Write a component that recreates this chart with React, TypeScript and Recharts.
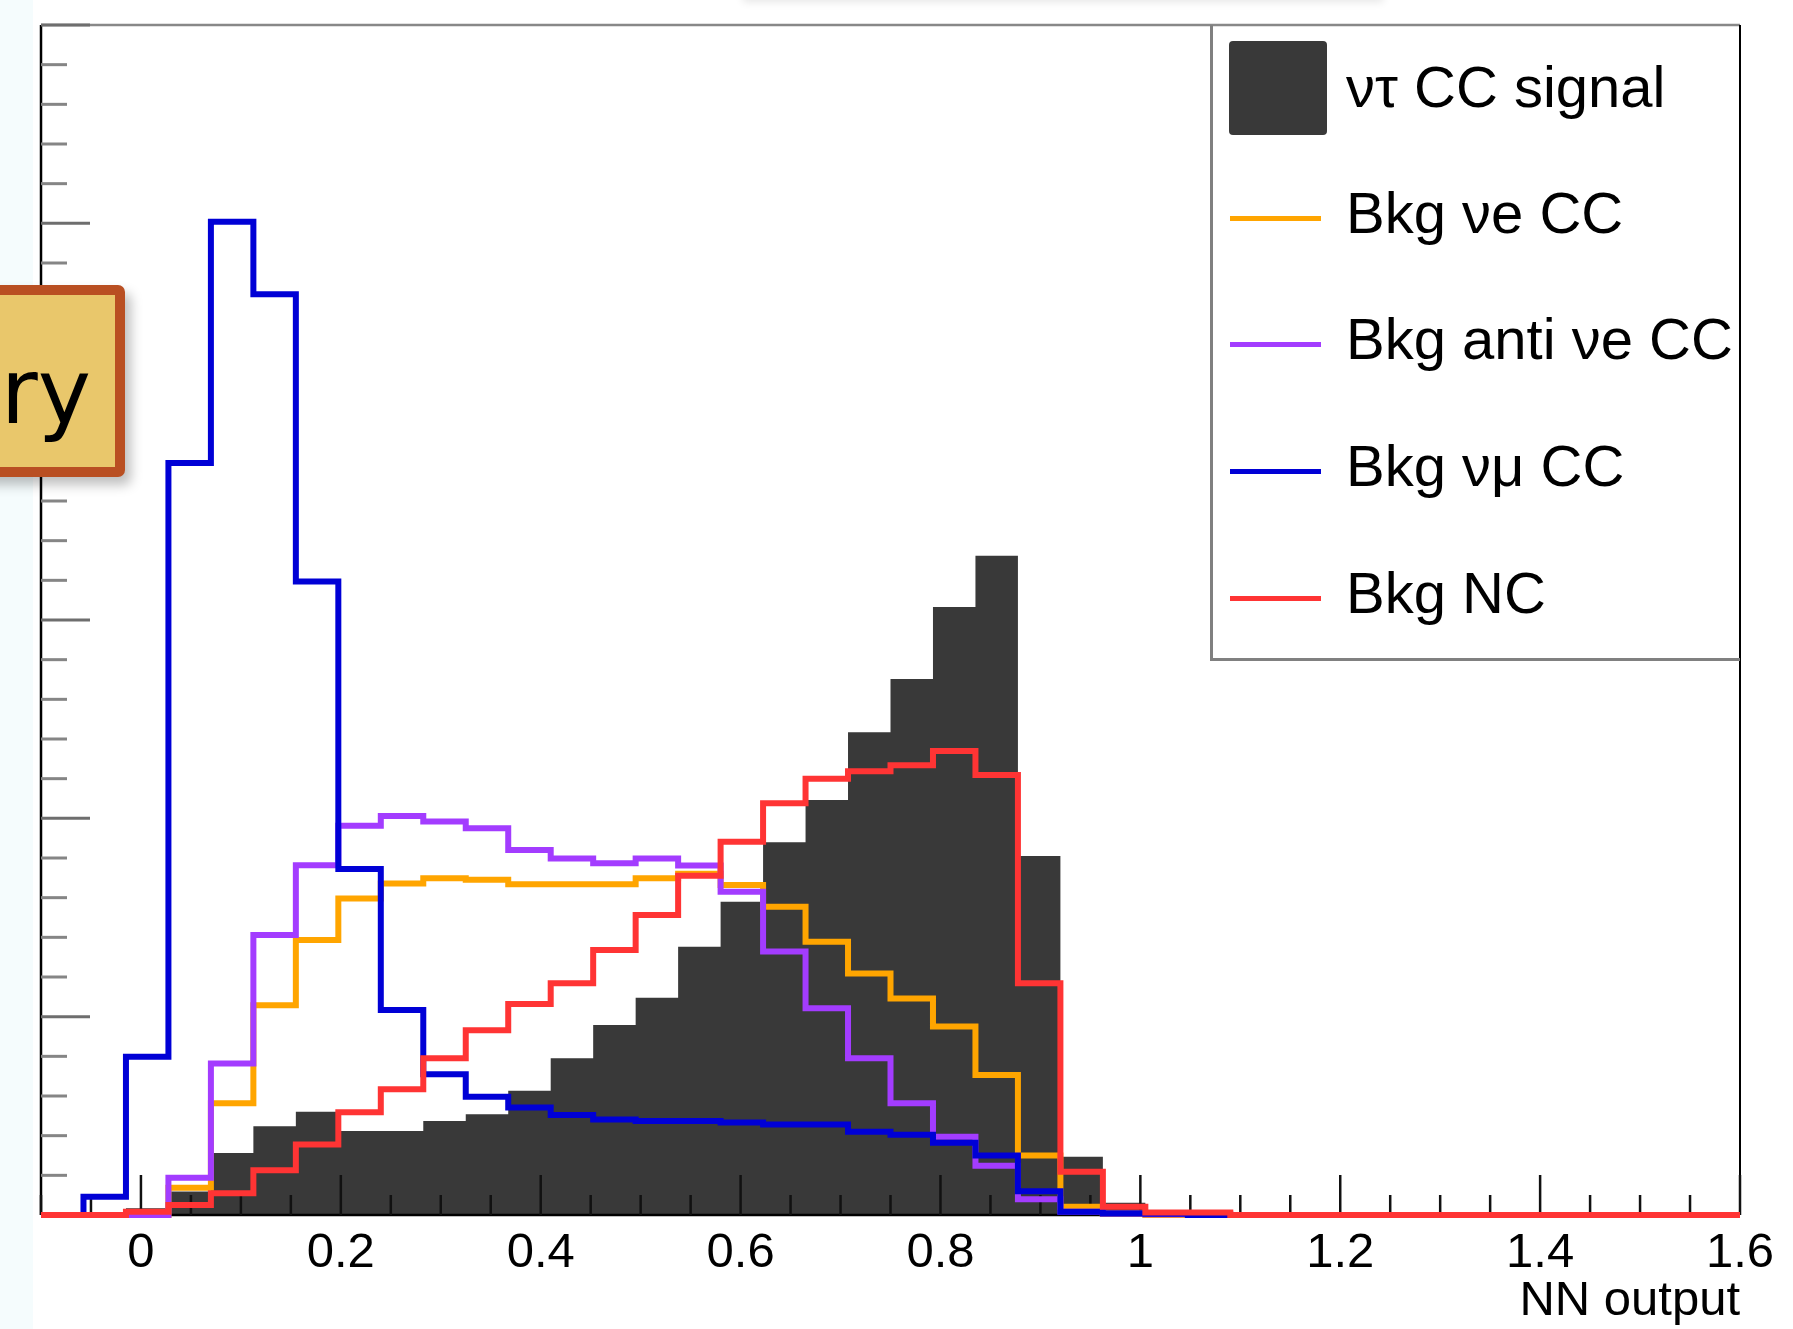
import {
  ComposedChart,
  Area,
  Line,
  XAxis,
  YAxis,
  ReferenceLine,
} from 'recharts';

// 40 bins from -0.1 to 1.6 (ROOT TH1 binning of the NN output)
const BIN_MIN = -0.1;
const BIN_MAX = 1.6;
const BIN_COUNT = 40;

const nutauSignal = [
  0, 0, 0.0017, 0.0059, 0.0156, 0.0224, 0.026, 0.0212, 0.0212, 0.0237,
  0.0254, 0.0313, 0.0395, 0.0479, 0.0548, 0.0676, 0.079, 0.094, 0.1046, 0.1217,
  0.1351, 0.1533, 0.1662, 0.0905, 0.0147, 0.0031, 0, 0, 0, 0,
  0, 0, 0, 0, 0, 0, 0, 0, 0, 0,
];
const nueCC = [
  0, 0, 0, 0.0069, 0.0282, 0.0529, 0.0693, 0.0798, 0.0836, 0.0849,
  0.0845, 0.0834, 0.0834, 0.0834, 0.0849, 0.086, 0.0832, 0.0777, 0.0689, 0.0609,
  0.0546, 0.0475, 0.0353, 0.015, 0.0021, 0.0003, 0, 0, 0, 0,
  0, 0, 0, 0, 0, 0, 0, 0, 0, 0,
];
const antiNueCC = [
  0, 0, 0, 0.0094, 0.0382, 0.0706, 0.0882, 0.0981, 0.1006, 0.0992,
  0.0975, 0.092, 0.0899, 0.0887, 0.0899, 0.0881, 0.0815, 0.0664, 0.0521, 0.0395,
  0.0282, 0.0197, 0.0124, 0.004, 0.0008, 0.0004, 0.0002, 0.0002, 0, 0,
  0, 0, 0, 0, 0, 0, 0, 0, 0, 0,
];
const numuCC = [
  0, 0.0046, 0.0399, 0.1896, 0.2504, 0.2321, 0.1597, 0.0872, 0.0517, 0.0355,
  0.0298, 0.0271, 0.0252, 0.0241, 0.0237, 0.0237, 0.0233, 0.0228, 0.0228, 0.021,
  0.0202, 0.0182, 0.015, 0.006, 0.0008, 0.0004, 0.0003, 0, 0, 0,
  0, 0, 0, 0, 0, 0, 0, 0, 0, 0,
];
const bkgNC = [
  0, 0, 0.0008, 0.0025, 0.0055, 0.0113, 0.0178, 0.0259, 0.0317, 0.0395,
  0.0466, 0.0532, 0.0584, 0.0668, 0.0756, 0.0855, 0.0941, 0.1038, 0.11, 0.1119,
  0.1134, 0.117, 0.1109, 0.0584, 0.0109, 0.0021, 0.0006, 0.0006, 0, 0,
  0, 0, 0, 0, 0, 0, 0, 0, 0, 0,
];

const xMajorStep = 0.2;
const xMinorStep = 0.05;
const yMax = 0.3;
const yMajorStep = 0.05;
const yMinorStep = 0.01;

const SERIES = [
  { key: 'signal', label: 'ντ CC signal', color: '#393939', values: nutauSignal, fill: true },
  { key: 'nue', label: 'Bkg νe CC', color: '#ffa500', values: nueCC },
  { key: 'antinue', label: 'Bkg anti νe CC', color: '#a33cff', values: antiNueCC },
  { key: 'numu', label: 'Bkg νμ CC', color: '#0000d6', values: numuCC },
  { key: 'nc', label: 'Bkg NC', color: '#ff3434', values: bkgNC },
];

const round = (v: number, d = 4) => Math.round(v * 10 ** d) / 10 ** d;

// one row per bin low edge, plus the upper edge so the last step closes
const binWidth = (BIN_MAX - BIN_MIN) / BIN_COUNT;
const rows = Array.from({ length: BIN_COUNT + 1 }, (_, i) => {
  const row: Record<string, number> = { x: round(BIN_MIN + i * binWidth) };
  SERIES.forEach((s) => {
    row[s.key] = s.values[Math.min(i, BIN_COUNT - 1)];
  });
  return row;
});

const xTicks = Array.from(
  { length: Math.round((BIN_MAX - BIN_MIN) / xMinorStep) + 1 },
  (_, i) => round(BIN_MIN + i * xMinorStep, 2),
);
const yTicks = Array.from(
  { length: Math.round(yMax / yMinorStep) + 1 },
  (_, i) => round(i * yMinorStep, 2),
);

const isMultiple = (v: number, step: number) =>
  Math.abs(v / step - Math.round(v / step)) < 1e-6;

const FONT = '"Liberation Sans", Arial, Helvetica, sans-serif';
const CHART_W = 1793;
const CHART_H = 1329;

function XTick({ x, y, payload }: any) {
  const major = isMultiple(payload.value, xMajorStep);
  return (
    <g>
      <line x1={x} x2={x} y1={y} y2={y - (major ? 40 : 20)} stroke="#111" strokeWidth={2.5} />
      {major && (
        <text x={x} y={y + 52} textAnchor="middle" fontSize={49} fontFamily={FONT} fill="#000">
          {String(round(payload.value, 2))}
        </text>
      )}
    </g>
  );
}

function YTick({ x, y, payload }: any) {
  const major = isMultiple(payload.value, yMajorStep);
  return (
    <line
      x1={x}
      x2={x + (major ? 49 : 26)}
      y1={y}
      y2={y}
      stroke={major ? '#6e6e6e' : '#858585'}
      strokeWidth={3}
    />
  );
}

function AxisTitle({ viewBox }: any) {
  return (
    <text
      x={viewBox.x + viewBox.width}
      y={viewBox.y + 100}
      textAnchor="end"
      fontSize={49}
      fontFamily={FONT}
      fill="#000"
    >
      NN output
    </text>
  );
}

function HistLegend() {
  const rowCenters = [62, 188, 314, 441, 568];
  return (
    <div
      style={{
        position: 'absolute',
        left: 1210,
        top: 25,
        width: 530,
        height: 636,
        boxSizing: 'border-box',
        borderLeft: '3px solid #808080',
        borderBottom: '3px solid #808080',
        fontFamily: FONT,
        fontSize: 58,
        color: '#000',
      }}
    >
      {SERIES.map((s, i) => (
        <div key={s.key}>
          {s.fill ? (
            <div
              style={{
                position: 'absolute',
                left: 16,
                top: 16,
                width: 98,
                height: 94,
                borderRadius: 4,
                background: s.color,
              }}
            />
          ) : (
            <div
              style={{
                position: 'absolute',
                left: 17,
                top: rowCenters[i] + 3,
                width: 91,
                height: 5,
                background: s.color,
              }}
            />
          )}
          <div
            style={{
              position: 'absolute',
              left: 133,
              top: rowCenters[i] - 33,
              lineHeight: '66px',
              whiteSpace: 'nowrap',
            }}
          >
            {s.label}
          </div>
        </div>
      ))}
    </div>
  );
}

export default function App() {
  return (
    <div
      style={{
        position: 'absolute',
        left: 0,
        top: 0,
        width: CHART_W,
        height: CHART_H,
        background: '#fff',
        overflow: 'hidden',
      }}
    >
      <div style={{ position: 'absolute', left: 0, top: 0, width: 33, height: CHART_H, background: '#f5fcfd' }} />
      <div
        style={{
          position: 'absolute',
          left: 743,
          top: -12,
          width: 640,
          height: 12,
          background: '#fff',
          boxShadow: '0 2px 8px rgba(0,0,0,0.1)',
        }}
      />
      {/* frame, axes and the filled signal histogram */}
      <div style={{ position: 'absolute', left: 0, top: 0 }}>
        <ComposedChart
          width={CHART_W}
          height={CHART_H}
          data={rows}
          margin={{ top: 25, right: 53, bottom: 0, left: 0 }}
        >
          <Area
            type="stepAfter"
            dataKey="signal"
            fill="#393939"
            fillOpacity={1}
            stroke="none"
            baseValue={0}
            dot={false}
            activeDot={false}
            isAnimationActive={false}
          />
          <XAxis
            type="number"
            dataKey="x"
            domain={[BIN_MIN, BIN_MAX]}
            allowDataOverflow
            ticks={xTicks}
            interval={0}
            tickSize={0}
            tickMargin={0}
            tickLine={false}
            tick={(p: any) => <XTick {...p} />}
            axisLine={{ stroke: '#000', strokeWidth: 2.5 }}
            height={114}
            label={(p: any) => <AxisTitle {...p} />}
          />
          <YAxis
            type="number"
            domain={[0, yMax]}
            allowDataOverflow
            ticks={yTicks}
            interval={0}
            tickSize={0}
            tickMargin={0}
            tickLine={false}
            tick={(p: any) => <YTick {...p} />}
            axisLine={{ stroke: '#000', strokeWidth: 2.5 }}
            width={41}
          />
          <ReferenceLine y={yMax} stroke="#888" strokeWidth={2.5} />
          <ReferenceLine x={BIN_MAX} stroke="#000" strokeWidth={2} />
        </ComposedChart>
      </div>
      {/* background step histograms, stacked above the axis lines (no clipping, so zero bins sit on the axis) */}
      <div style={{ position: 'absolute', left: 0, top: 0 }}>
        <ComposedChart
          width={CHART_W}
          height={CHART_H}
          data={rows}
          margin={{ top: 25, right: 53, bottom: 114, left: 41 }}
        >
          <XAxis type="number" dataKey="x" domain={[BIN_MIN, BIN_MAX]} hide />
          <YAxis type="number" domain={[0, yMax]} hide />
          {SERIES.filter((s) => !s.fill).map((s) => (
            <Line
              key={s.key}
              type="stepAfter"
              dataKey={s.key}
              stroke={s.color}
              strokeWidth={6}
              strokeLinejoin="miter"
              dot={false}
              activeDot={false}
              isAnimationActive={false}
            />
          ))}
        </ComposedChart>
      </div>
      <HistLegend />
      <div
        style={{
          position: 'absolute',
          left: -80,
          top: 285,
          width: 205,
          height: 192,
          boxSizing: 'border-box',
          background: '#e9c76b',
          border: '10px solid #b94f22',
          borderRadius: 7,
          boxShadow: '6px 8px 12px rgba(0,0,0,0.25)',
          textAlign: 'right',
          paddingTop: 22,
          paddingRight: 24,
          fontFamily: '"Comic Sans MS", "DejaVu Sans", sans-serif',
          fontSize: 90,
          lineHeight: '150px',
          color: '#000',
        }}
      >
        ry
      </div>
    </div>
  );
}
